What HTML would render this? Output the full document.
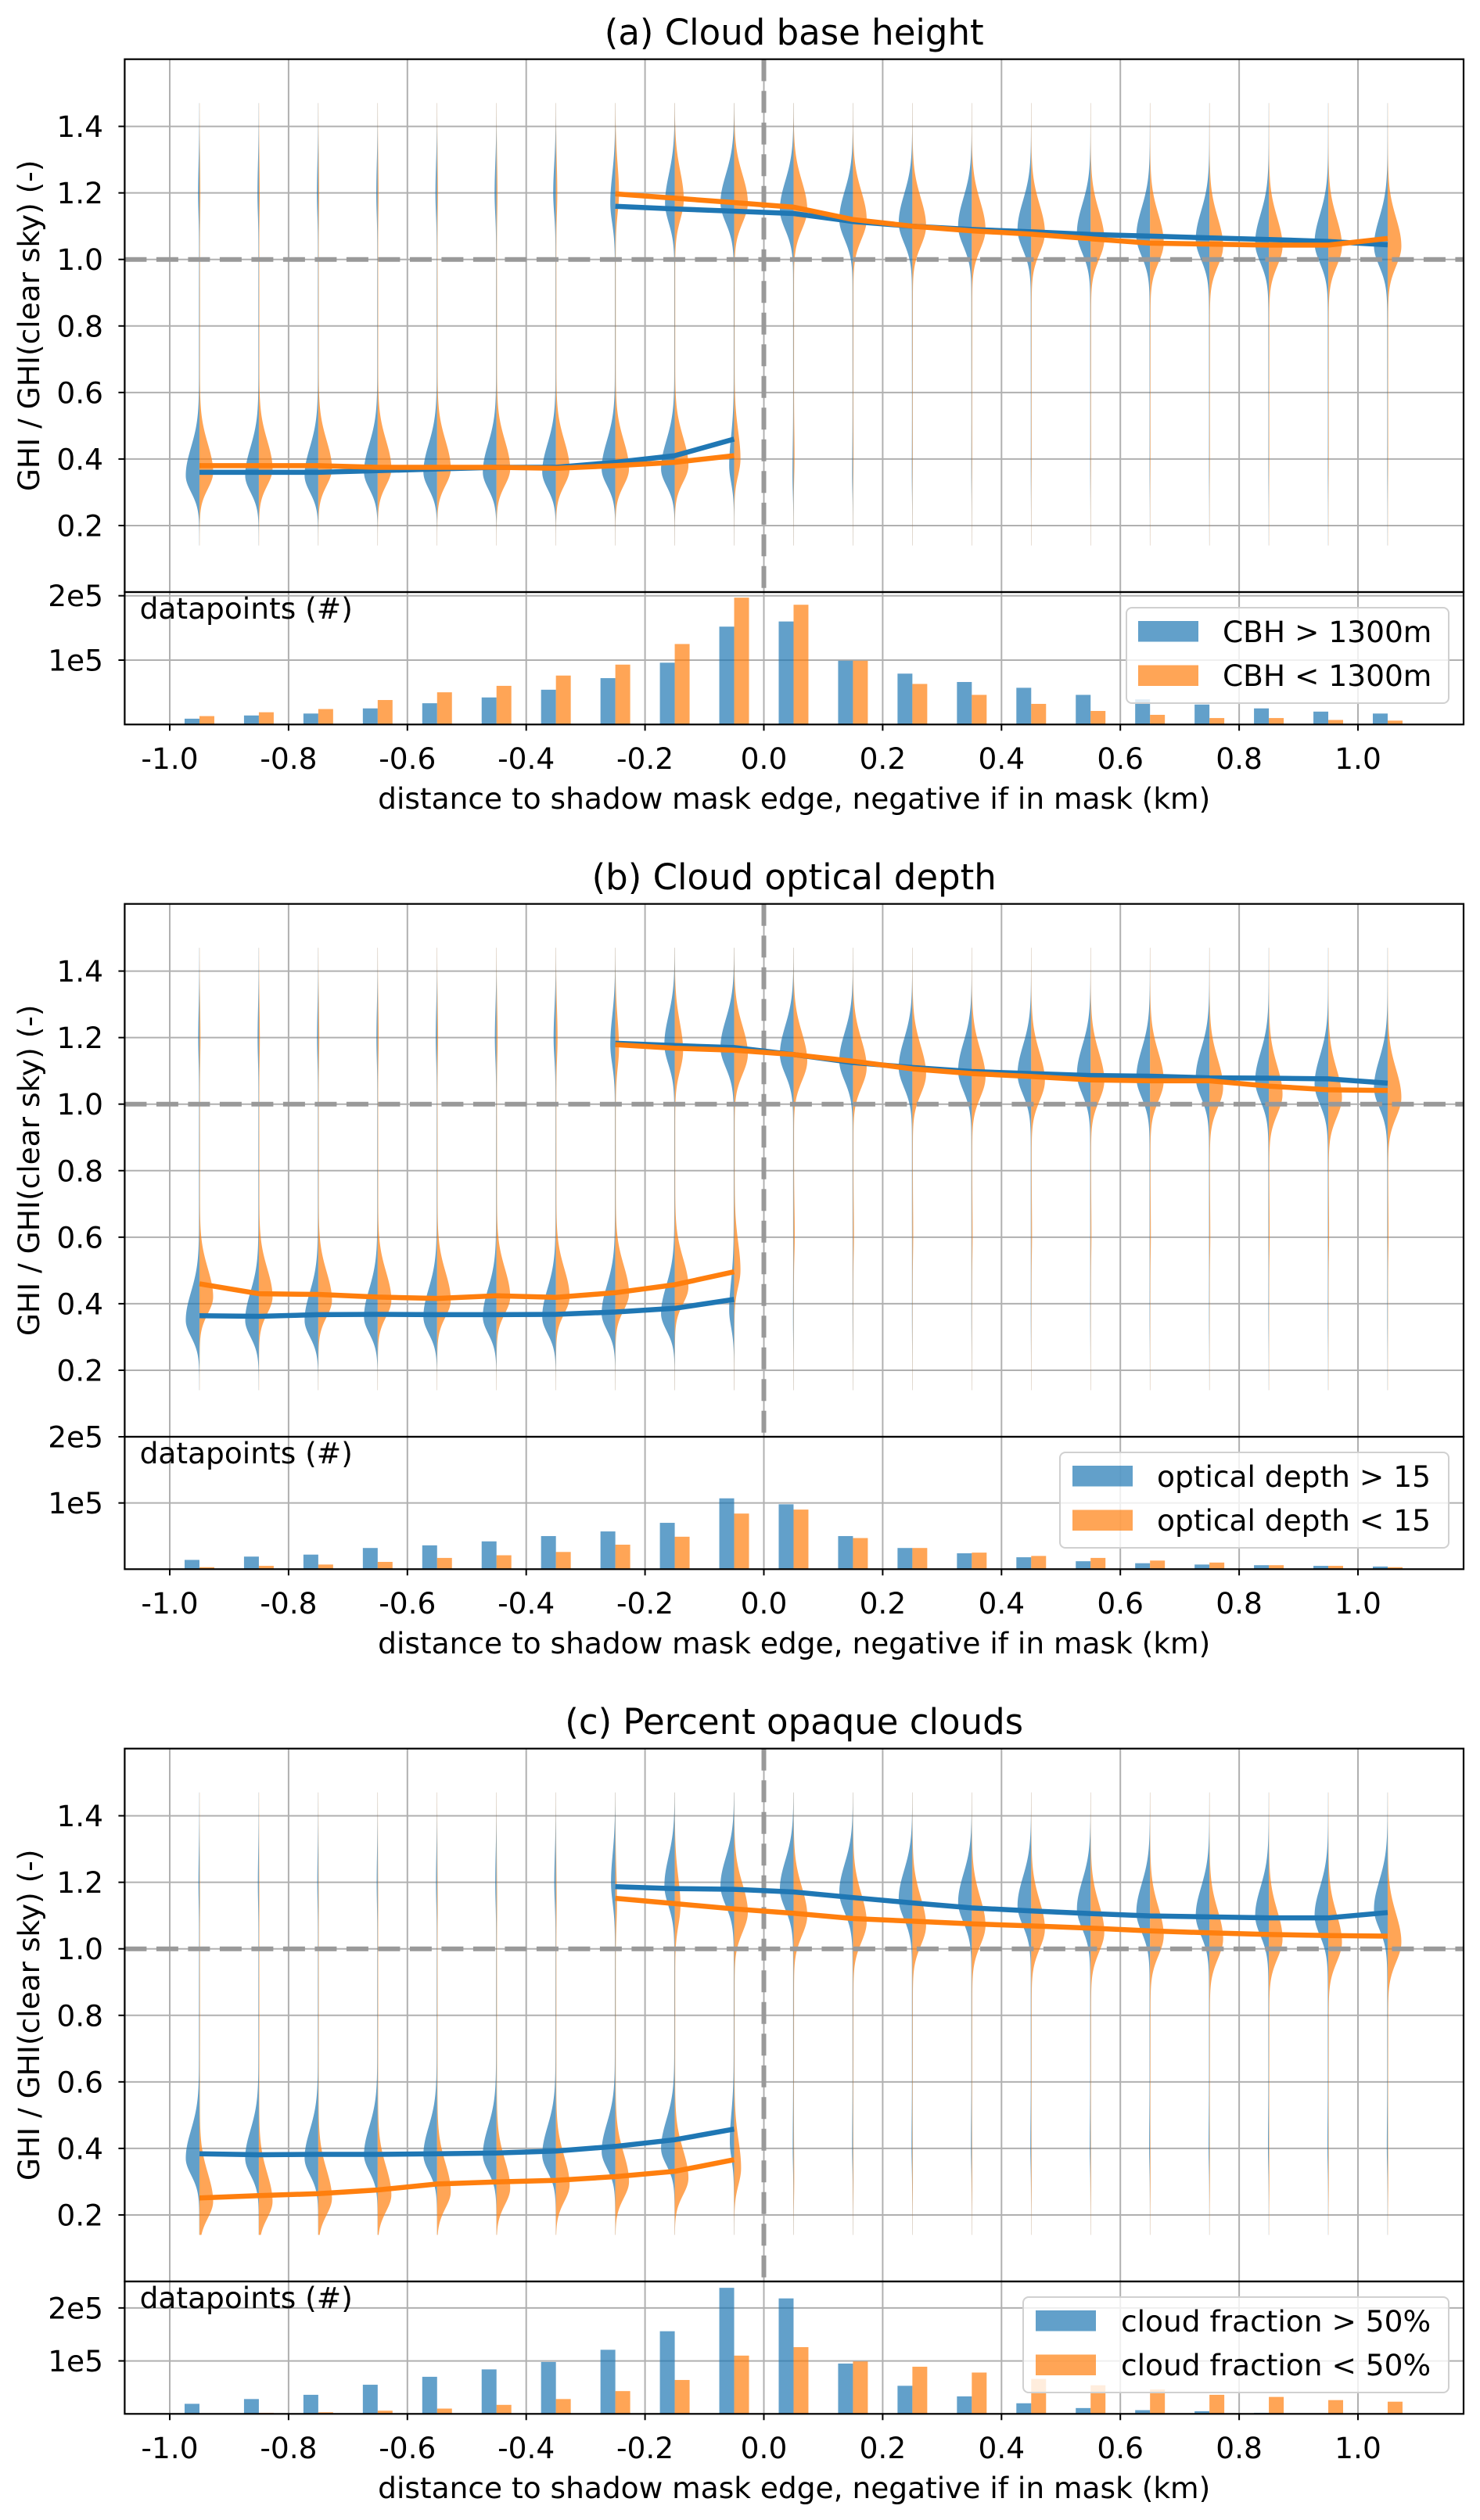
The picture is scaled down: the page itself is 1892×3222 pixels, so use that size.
<!DOCTYPE html>
<html><head><meta charset="utf-8"><title>GHI ratio vs distance to shadow mask edge</title>
<style>
html,body{margin:0;padding:0;background:#fff;}
svg{display:block;font-family:"DejaVu Sans","Liberation Sans",sans-serif;}
</style></head>
<body>
<svg id="fig" xmlns="http://www.w3.org/2000/svg" width="1892" height="3222" viewBox="0 0 1892 3222">
<rect x="0" y="0" width="1892" height="3222" fill="#fff"/>
</svg>
<script>
// ---------- shared data ----------
const positions = [-0.95,-0.85,-0.75,-0.65,-0.55,-0.45,-0.35,-0.25,-0.15,-0.05,0.05,0.15,0.25,0.35,0.45,0.55,0.65,0.75,0.85,0.95,1.05];
const xTickValues = [-1.0,-0.8,-0.6,-0.4,-0.2,0.0,0.2,0.4,0.6,0.8,1.0];
const xTickLabels = ["-1.0","-0.8","-0.6","-0.4","-0.2","0.0","0.2","0.4","0.6","0.8","1.0"];
const yTickValues = [0.2,0.4,0.6,0.8,1.0,1.2,1.4];
const yTickLabels = ["0.2","0.4","0.6","0.8","1.0","1.2","1.4"];
const histTickValues = [100000,200000];
const histTickLabels = ["1e5","2e5"];
const panelTitles = ["(a) Cloud base height","(b) Cloud optical depth","(c) Percent opaque clouds"];
const legendBlue = ["CBH > 1300m","optical depth > 15","cloud fraction > 50%"];
const legendOrange = ["CBH < 1300m","optical depth < 15","cloud fraction < 50%"];
const histMax = [205700,200000,250000];

// ---------- mean lines: inside-mask (10 pts, -0.95..-0.05), outside (14 pts, -0.25..1.05) ----------
const aBlueLow = [0.36,0.36,0.36,0.365,0.37,0.375,0.375,0.39,0.41,0.46];
const aOrangeLow = [0.38,0.38,0.38,0.375,0.375,0.375,0.372,0.38,0.39,0.41];
const aBlueHigh = [1.16,1.152,1.145,1.138,1.114,1.10,1.09,1.083,1.075,1.07,1.065,1.06,1.054,1.044];
const aOrangeHigh = [1.197,1.184,1.171,1.157,1.12,1.10,1.086,1.076,1.062,1.049,1.046,1.043,1.043,1.063];
const bBlueLow = [0.364,0.362,0.367,0.368,0.367,0.367,0.368,0.375,0.386,0.413];
const bOrangeLow = [0.46,0.43,0.428,0.42,0.416,0.424,0.419,0.433,0.457,0.496];
const bBlueHigh = [1.183,1.176,1.17,1.149,1.125,1.11,1.098,1.092,1.086,1.084,1.079,1.078,1.076,1.063];
const bOrangeHigh = [1.179,1.168,1.162,1.149,1.129,1.106,1.092,1.083,1.073,1.07,1.07,1.054,1.043,1.041];
const cBlueLow = [0.384,0.381,0.382,0.382,0.384,0.386,0.392,0.406,0.426,0.458];
const cOrangeLow = [0.251,0.258,0.264,0.275,0.293,0.299,0.304,0.315,0.331,0.366];
const cBlueHigh = [1.187,1.181,1.179,1.171,1.154,1.138,1.123,1.114,1.106,1.099,1.096,1.093,1.093,1.109];
const cOrangeHigh = [1.152,1.136,1.12,1.107,1.091,1.083,1.075,1.069,1.062,1.054,1.048,1.043,1.04,1.038];

// ---------- histogram counts (21 bins) ----------
const aBlueCount = [9000,14000,17000,25000,33000,42000,54000,72000,96000,152000,160000,99000,79000,66000,57000,46000,39000,31000,25000,20000,17000];
const aOrangeCount = [13000,19000,24000,38000,50000,60000,76000,93000,125000,197000,186000,99000,63000,46000,32000,21000,15000,10000,10000,7000,6000];
const bBlueCount = [14000,19000,22000,32000,36000,42000,50000,57000,70000,107000,98000,50000,32000,24000,18000,12000,9000,7000,6000,5000,4000];
const bOrangeCount = [3000,5000,7000,11000,17000,21000,26000,37000,49000,84000,90000,47000,32000,25000,20000,17000,13000,10000,6000,5000,3000];
const cBlueCount = [19000,28000,36000,55000,70000,84000,98000,121000,156000,238000,218000,95000,53000,33000,20000,11000,7000,5000,2000,1000,1000];
const cOrangeCount = [500,2000,3000,6000,10000,17000,28000,43000,64000,110000,126000,99000,89000,78000,66000,54000,46000,36000,32000,26000,23000];

// ---------- violin shape data (21 violins each) ----------
const aBlueLowMode = [0.35,0.35,0.35,0.36,0.36,0.36,0.36,0.37,0.37,0.38,0.35,0.35,0.35,0.35,0.35,0.35,0.35,0.35,0.35,0.35,0.35];
const aBlueHighMode = [1.2,1.2,1.2,1.2,1.2,1.2,1.2,1.17,1.17,1.17,1.15,1.12,1.11,1.10,1.09,1.08,1.07,1.06,1.05,1.05,1.04];
const aBlueLowAmp = [1,1,1,1,1,1,1,1,1,0.35,0.06,0.04,0.02,0.015,0.01,0.01,0.01,0.01,0.01,0.01,0.01];
const aBlueHighAmp = [0.08,0.08,0.08,0.08,0.1,0.12,0.18,0.35,0.7,1,1,1,1,1,1,1,1,1,1,1,1];
const aOrangeLowMode = [0.36,0.37,0.37,0.37,0.37,0.37,0.37,0.37,0.38,0.40,0.4,0.4,0.4,0.4,0.4,0.4,0.4,0.4,0.4,0.4,0.4];
const aOrangeHighMode = [1.2,1.2,1.2,1.2,1.2,1.2,1.2,1.2,1.18,1.17,1.15,1.12,1.10,1.09,1.08,1.06,1.05,1.04,1.04,1.04,1.04];
const aOrangeLowAmp = [1,1,1,1,1,1,1,1,1,0.45,0.05,0.02,0.01,0.01,0.01,0.01,0.01,0.01,0.01,0.01,0.01];
const aOrangeHighAmp = [0.04,0.04,0.04,0.04,0.04,0.05,0.08,0.25,0.65,1,1,1,1,1,1,1,1,1,1,1,1];
const bBlueLowMode = [0.35,0.35,0.35,0.36,0.36,0.36,0.36,0.37,0.37,0.38,0.35,0.35,0.35,0.35,0.35,0.35,0.35,0.35,0.35,0.35,0.35];
const bBlueHighMode = [1.2,1.2,1.2,1.2,1.2,1.2,1.2,1.18,1.18,1.17,1.15,1.13,1.11,1.10,1.09,1.09,1.08,1.08,1.07,1.06,1.05];
const bBlueLowAmp = [1,1,1,1,1,1,1,1,1,0.35,0.02,0.01,0.01,0.01,0.01,0.01,0.01,0.01,0.01,0.01,0.01];
const bBlueHighAmp = [0.07,0.07,0.07,0.07,0.08,0.1,0.15,0.35,0.75,1,1,1,1,1,1,1,1,1,1,1,1];
const bOrangeLowMode = [0.42,0.42,0.41,0.41,0.41,0.42,0.42,0.43,0.45,0.50,0.6,0.6,0.6,0.6,0.6,0.6,0.6,0.6,0.6,0.6,0.6];
const bOrangeHighMode = [1.2,1.2,1.2,1.2,1.2,1.2,1.2,1.17,1.16,1.15,1.13,1.11,1.09,1.08,1.07,1.07,1.07,1.05,1.03,1.02,1.02];
const bOrangeLowAmp = [1,1,1,1,1,1,1,1,1,0.4,0.06,0.04,0.03,0.03,0.03,0.03,0.03,0.03,0.03,0.03,0.03];
const bOrangeHighAmp = [0.05,0.05,0.05,0.05,0.05,0.06,0.1,0.25,0.6,0.9,1,1,1,1,1,1,1,1,1,1,1];
const cBlueLowMode = [0.37,0.37,0.37,0.38,0.38,0.38,0.38,0.39,0.40,0.42,0.4,0.4,0.4,0.4,0.4,0.4,0.4,0.4,0.4,0.4,0.4];
const cBlueHighMode = [1.2,1.2,1.2,1.2,1.2,1.2,1.2,1.2,1.19,1.19,1.18,1.17,1.15,1.14,1.13,1.12,1.11,1.10,1.10,1.10,1.12];
const cBlueLowAmp = [1,1,1,1,1,1,1,1,1,0.3,0.04,0.04,0.04,0.04,0.04,0.04,0.04,0.04,0.04,0.04,0.04];
const cBlueHighAmp = [0.05,0.05,0.05,0.05,0.06,0.07,0.1,0.3,0.75,1,1,1,1,1,1,1,1,1,1,1,1];
const cOrangeLowMode = [0.24,0.24,0.25,0.26,0.27,0.28,0.29,0.30,0.31,0.34,0.3,0.3,0.3,0.3,0.3,0.3,0.3,0.3,0.3,0.3,0.3];
const cOrangeHighMode = [1.15,1.15,1.15,1.15,1.15,1.15,1.15,1.14,1.13,1.11,1.10,1.08,1.07,1.07,1.06,1.05,1.04,1.03,1.03,1.02,1.02];
const cOrangeLowAmp = [1,1,1,1,1,1,1,1,1,0.5,0.03,0.02,0.02,0.02,0.02,0.02,0.02,0.02,0.02,0.02,0.02];
const cOrangeHighAmp = [0.01,0.01,0.01,0.01,0.02,0.02,0.03,0.1,0.4,1,1,1,1,1,1,1,1,1,1,1,1];

const panels = [
 {blueLow:aBlueLow,orangeLow:aOrangeLow,blueHigh:aBlueHigh,orangeHigh:aOrangeHigh,blueCount:aBlueCount,orangeCount:aOrangeCount,
  bV:[aBlueLowMode,aBlueHighMode,aBlueLowAmp,aBlueHighAmp],oV:[aOrangeLowMode,aOrangeHighMode,aOrangeLowAmp,aOrangeHighAmp]},
 {blueLow:bBlueLow,orangeLow:bOrangeLow,blueHigh:bBlueHigh,orangeHigh:bOrangeHigh,blueCount:bBlueCount,orangeCount:bOrangeCount,
  bV:[bBlueLowMode,bBlueHighMode,bBlueLowAmp,bBlueHighAmp],oV:[bOrangeLowMode,bOrangeHighMode,bOrangeLowAmp,bOrangeHighAmp]},
 {blueLow:cBlueLow,orangeLow:cOrangeLow,blueHigh:cBlueHigh,orangeHigh:cOrangeHigh,blueCount:cBlueCount,orangeCount:cOrangeCount,
  bV:[cBlueLowMode,cBlueHighMode,cBlueLowAmp,cBlueHighAmp],oV:[cOrangeLowMode,cOrangeHighMode,cOrangeLowAmp,cOrangeHighAmp]}
];
const legendGeom = [{box:1440,patch:1455,text:1563},{box:1355,patch:1371,text:1479},{box:1308,patch:1324,text:1433}];

const NS = "http://www.w3.org/2000/svg";
const svg = document.getElementById("fig");
const BLUE = "#1f77b4", ORANGE = "#ff7f0e";
const L = 159.4, R = 1871, TOP = 75.7, MID = 757, BOT = 926.3;
const X0 = 976.5, XS = 759.5;
function xs(v){ return X0 + XS*v; }
function mk(tag, attrs, parent){
  const e = document.createElementNS(NS, tag);
  for (const k in attrs) e.setAttribute(k, attrs[k]);
  (parent||svg).appendChild(e);
  return e;
}
function sn(v, m, sd, su){ const s = v < m ? sd : su; const z = (v-m)/s; return Math.exp(-0.5*z*z); }

panels.forEach((P, pi) => {
  const off = pi*1080;
  const ym = v => off + MID - v*425.3;
  const yh = v => off + BOT - v/histMax[pi]*(BOT-MID);
  const g = mk("g", {});
  
  

  const t = mk("text", {x:(L+R)/2, y:off+57, "font-size":"45", "text-anchor":"middle", fill:"#000"}, g);
  t.textContent = panelTitles[pi];
  
  

  const grid = mk("g", {stroke:"#b0b0b0", "stroke-width":"2"}, g);
  
  
  xTickValues.forEach(v => { mk("line", {x1:xs(v), x2:xs(v), y1:off+TOP, y2:off+BOT}, grid); });
  yTickValues.forEach(v => { mk("line", {x1:L, x2:R, y1:ym(v), y2:ym(v)}, grid); });
  histTickValues.forEach(v => { if (v <= histMax[pi]) mk("line", {x1:L, x2:R, y1:yh(v), y2:yh(v)}, grid); });

  const vg = mk("g", {}, g);
  
  
  [[P.bV, BLUE, -1],[P.oV, ORANGE, 1]].forEach(([V, col, side]) => {
    positions.forEach((p, i) => {
      const vals = [];
      let mx = 0;
      for (let v = 0.14; v <= 1.47; v += 0.005) {
        const d = V[2][i]*sn(v, V[0][i], 0.05, 0.085) + V[3][i]*sn(v, V[1][i], 0.06, 0.085) + 0.035*sn(v, 0.8, 0.45, 0.45);
        vals.push([v, d]); if (d > mx) mx = d;
      }
      const cx = xs(p);
      let dstr = "M" + cx + "," + ym(vals[0][0]);
      vals.forEach(([v, d]) => { dstr += "L" + (cx + side*d/mx*17.5).toFixed(2) + "," + ym(v).toFixed(2); });
      dstr += "L" + cx + "," + ym(vals[vals.length-1][0]) + "Z";
      const path = mk("path", {d:dstr, fill:col, "fill-opacity":"0.7"}, vg);
      
      
    });
  });

  const dl1 = mk("line", {x1:L, x2:R, y1:ym(1.0), y2:ym(1.0), stroke:"#999", "stroke-width":"6", "stroke-dasharray":"28 12.5"}, g);
  
  
  const dl2 = mk("line", {x1:xs(0), x2:xs(0), y1:off+TOP, y2:off+MID, stroke:"#999", "stroke-width":"6", "stroke-dasharray":"28 12.5"}, g);
  
  

  const lowPos = positions.slice(0, 10), highPos = positions.slice(7);
  [[P.blueLow, lowPos, BLUE, 'blue-mean-line-inside'],[P.orangeLow, lowPos, ORANGE, 'orange-mean-line-inside'],
   [P.blueHigh, highPos, BLUE, 'blue-mean-line-outside'],[P.orangeHigh, highPos, ORANGE, 'orange-mean-line-outside']].forEach(([vals, pos, col, nm]) => {
    const pts = vals.map((v, k) => xs(pos[k]).toFixed(1) + "," + ym(v).toFixed(1)).join(" ");
    const pl = mk("polyline", {points:pts, fill:"none", stroke:col, "stroke-width":"6.5", "stroke-linejoin":"round"}, g);
    
    
  });

  const hg = mk("g", {}, g);
  
  
  positions.forEach((p, i) => {
    const b = mk("rect", {x:xs(p-0.025), y:yh(P.blueCount[i]), width:0.025*XS, height:BOT+off-yh(P.blueCount[i]), fill:BLUE, "fill-opacity":"0.7"}, hg);
    
    
    const o = mk("rect", {x:xs(p), y:yh(P.orangeCount[i]), width:0.025*XS, height:BOT+off-yh(P.orangeCount[i]), fill:ORANGE, "fill-opacity":"0.7"}, hg);
    
    
  });

  const sp = mk("g", {stroke:"#000", "stroke-width":"2.2", fill:"none"}, g);
  
  
  mk("rect", {x:L, y:off+TOP, width:R-L, height:MID-TOP}, sp);
  mk("rect", {x:L, y:off+MID, width:R-L, height:BOT-MID}, sp);

  const tk = mk("g", {stroke:"#000", "stroke-width":"2"}, g);
  const tl = mk("g", {"font-size":"37.5", fill:"#000"}, g);
  
  
  xTickValues.forEach((v, k) => {
    mk("line", {x1:xs(v), x2:xs(v), y1:off+BOT, y2:off+BOT+8}, tk);
    const tx = mk("text", {x:xs(v), y:off+983, "text-anchor":"middle"}, tl);
    tx.textContent = xTickLabels[k];
    
    
  });
  yTickValues.forEach((v, k) => {
    mk("line", {x1:L-8, x2:L, y1:ym(v), y2:ym(v)}, tk);
    const ty = mk("text", {x:132, y:ym(v)+13.5, "text-anchor":"end"}, tl);
    ty.textContent = yTickLabels[k];
    
    
  });
  histTickValues.forEach((v, k) => {
    if (v > histMax[pi]) return;
    mk("line", {x1:L-8, x2:L, y1:yh(v), y2:yh(v)}, tk);
    const th = mk("text", {x:132, y:yh(v)+13.5, "text-anchor":"end"}, tl);
    th.textContent = histTickLabels[k];
    
    
  });

  const xl = mk("text", {x:(L+R)/2, y:off+1034, "font-size":"37.5", "text-anchor":"middle"}, g);
  xl.textContent = "distance to shadow mask edge, negative if in mask (km)";
  
  
  const ylab = mk("text", {x:0, y:0, "font-size":"37.5", "text-anchor":"middle", transform:"translate(50," + (off+(TOP+MID)/2) + ") rotate(-90)"}, g);
  ylab.textContent = "GHI / GHI(clear sky) (-)";
  
  
  const dp = mk("text", {x:178.6, y:off+791, "font-size":"37.5"}, g);
  dp.textContent = "datapoints (#)";
  
  

  const LG = legendGeom[pi];
  const lg = mk("g", {}, g);
  
  
  mk("rect", {x:LG.box, y:off+777, width:1852-LG.box, height:122, rx:7, fill:"#fff", "fill-opacity":"0.8", stroke:"#d0d0d0", "stroke-width":"2"}, lg);
  const p1 = mk("rect", {x:LG.patch, y:off+794, width:77, height:26.5, fill:BLUE, "fill-opacity":"0.7"}, lg);
  
  
  const p2 = mk("rect", {x:LG.patch, y:off+850.5, width:77, height:26.5, fill:ORANGE, "fill-opacity":"0.7"}, lg);
  
  
  const e1 = mk("text", {x:LG.text, y:off+821, "font-size":"37.5"}, lg);
  e1.textContent = legendBlue[pi];
  
  
  const e2 = mk("text", {x:LG.text, y:off+877, "font-size":"37.5"}, lg);
  e2.textContent = legendOrange[pi];
  
  
});
</script>
</body></html>
